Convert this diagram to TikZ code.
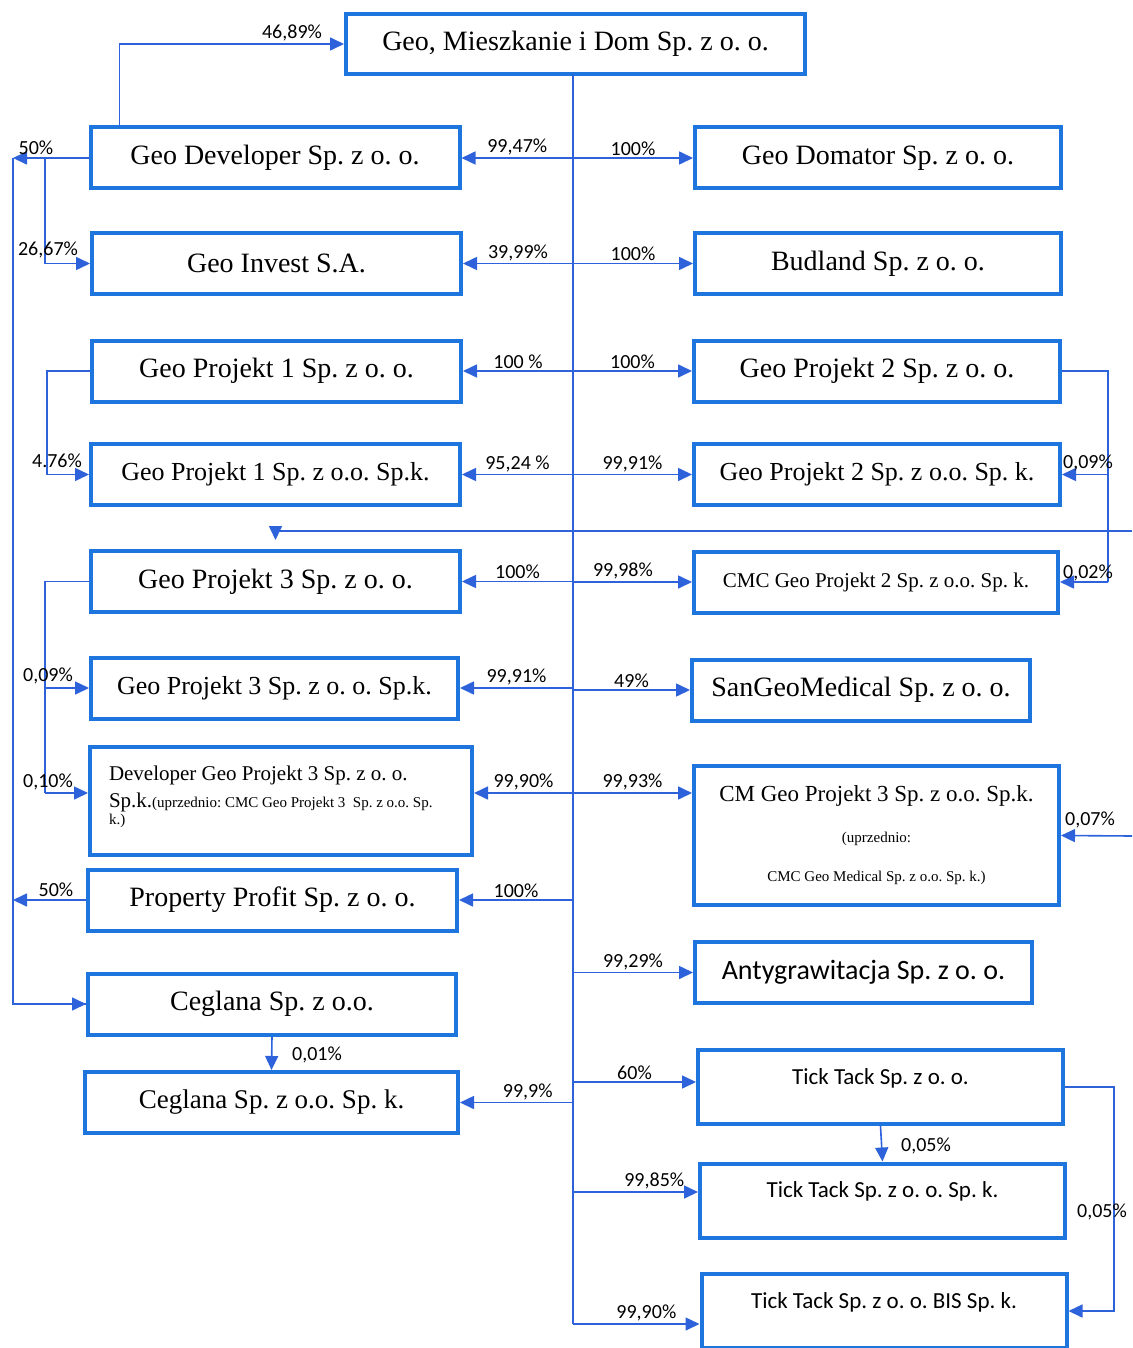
\documentclass[tikz,border=0pt]{standalone}
\usepackage{fontspec}
\setmainfont{Liberation Serif}
\newfontfamily\calibri{Carlito}
\usetikzlibrary{arrows.meta}
\frenchspacing

\definecolor{boxblue}{RGB}{30,117,221}
\definecolor{lineblue}{RGB}{45,98,218}

\tikzset{
  firm/.style={rectangle, draw=boxblue, line width=2pt, inner sep=0pt,
    minimum width=184.5pt, minimum height=30.5pt,
    font=\fontsize{14}{16}\selectfont},
  firmk/.style={firm, font=\fontsize{13}{15}\selectfont},
  tick/.style={firm, minimum width=182.5pt,
    font=\calibri\fontsize{11.5}{13}\selectfont,
    text height=17pt, text depth=20pt},
  link/.style={draw=lineblue, line width=0.8pt},
  arr/.style={link, -{Triangle[length=7pt,width=6.5pt]}},
  pct/.style={font=\calibri\fontsize{10}{12}\selectfont, inner sep=1pt},
}

\begin{document}
\begin{tikzpicture}[x=0.5pt,y=-0.5pt]
  \useasboundingbox (0,0) rectangle (1132,1348);

  \begin{scope}
    \node[firm, minimum width=229.5pt, minimum height=30pt] (gmd) at (575.5,44) {Geo, Mieszkanie i Dom Sp. z o. o.};
    \node[firm] (gdev) at (275,158) {Geo Developer Sp. z o. o.};
    \node[firm, minimum width=183pt] (gdom) at (878,158) {Geo Domator Sp. z o. o.};
    \node[firm] (ginv) at (276.5,263.5) {Geo Invest S.A.};
    \node[firm, minimum width=183pt] (budl) at (878,263.5) {Budland Sp. z o. o.};
    \node[firm] (gp1) at (276.5,371) {Geo Projekt 1 Sp. z o. o.};
    \node[firm, minimum width=183pt] (gp2) at (877,371) {Geo Projekt 2 Sp. z o. o.};
    \node[firmk] (gp1k) at (275.5,474.5) {Geo Projekt 1 Sp. z o.o. Sp.k.};
    \node[firmk, minimum width=183pt] (gp2k) at (877,474.5) {Geo Projekt 2 Sp. z o.o. Sp. k.};
    \node[firm] (gp3) at (275.5,581.5) {Geo Projekt 3 Sp. z o. o.};
    \node[firm, minimum width=182pt, font=\fontsize{10.5}{12}\selectfont] (cmc2) at (876,582) {CMC Geo Projekt 2 Sp. z o.o. Sp. k.};
    \node[firmk, minimum width=183.5pt] (gp3k) at (274.5,688) {Geo Projekt 3 Sp. z o. o. Sp.k.};
    \node[firm, minimum width=169pt] (sgm) at (861,690) {SanGeoMedical Sp. z o. o.};
    \node[firm, minimum width=191pt, minimum height=54pt, text width=172pt, align=flush left,
      font=\fontsize{10.5}{13}\selectfont] (dgp3) at (281,801)
      {Developer Geo Projekt 3 Sp. z o. o.\\[0.5pt]Sp.k.{\fontsize{7.5}{8}\selectfont(uprzednio: CMC Geo Projekt 3\ \ Sp. z o.o. Sp.}\\[-4.5pt]{\fontsize{7.5}{8}\selectfont k.)}\\[-7pt]\mbox{}};
    \node[firm, minimum width=182.5pt, minimum height=69.5pt, align=center,
      font=\fontsize{11.5}{13.5}\selectfont] (cmgp3) at (876.5,835.5)
      {CM Geo Projekt 3 Sp. z o.o. Sp.k.\\[7pt]{\fontsize{7.5}{9}\selectfont(uprzednio:}\\[6pt]{\fontsize{7.5}{9}\selectfont CMC Geo Medical Sp. z o.o. Sp. k.)}};
    \node[firm] (ppr) at (272.5,900) {Property Profit Sp. z o. o.};
    \node[firm, minimum width=168.5pt, font=\calibri\fontsize{14}{16}\selectfont] (anty) at (863.5,972.5) {Antygrawitacja Sp. z o. o.};
    \node[firm, minimum width=184pt] (cegl) at (272,1004) {Ceglana Sp. z o.o.};
    \node[firm, minimum width=186.5pt, font=\fontsize{13.5}{15}\selectfont] (ceglk) at (271.5,1102.5) {Ceglana Sp. z o.o. Sp. k.};
    \node[tick] (tt) at (880.5,1087) {Tick Tack Sp. z o. o.};
    \node[tick] (ttk) at (882.5,1200.5) {Tick Tack Sp. z o. o. Sp. k.};
    \node[tick] (ttbis) at (884,1311) {Tick Tack Sp. z o. o. BIS Sp. k.};
  \end{scope}

  % os glowna
  \coordinate (sp) at (573,74);
  \coordinate (r7) at (573,793);
  \coordinate (ttrow) at (573,1082);
  \coordinate (ttkrow) at (573,1192);
  \coordinate (bisrow) at (573,1324);
  \draw[link] (sp) -- (bisrow);

  \draw[arr] (sp |- gdev.east) -- node[pct,above] (l9947) {99,47\%} (gdev.east);
  \draw[arr] (sp |- ginv.east) -- node[pct,above] (l3999) {39,99\%} (ginv.east);
  \draw[arr] (sp |- gp1.east) -- node[pct,above] (l100a) {100 \%} (gp1.east);
  \draw[arr] (sp |- gp1k.east) -- node[pct,above] (l9524) {95,24 \%} (gp1k.east);
  \draw[arr] (sp |- gp3.east) -- node[pct,above] (l100b) {100\%} (gp3.east);
  \draw[arr] (sp |- gp3k.east) -- node[pct,above] (l9991a) {99,91\%} (gp3k.east);
  \draw[arr] (r7) -- node[pct,above] (l9990a) {99,90\%} (dgp3.east |- r7);
  \draw[arr] (sp |- ppr.east) -- node[pct,above] (l100c) {100\%} (ppr.east);
  \draw[arr] (sp |- ceglk.east) -- node[pct,above,pos=0.4] (l999) {99,9\%} (ceglk.east);

  \draw[arr] (sp |- gdom.west) -- node[pct,above] (l100d) {100\%} (gdom.west);
  \draw[arr] (sp |- budl.west) -- node[pct,above] (l100e) {100\%} (budl.west);
  \draw[arr] (sp |- gp2.west) -- node[pct,above] (l100f) {100\%} (gp2.west);
  \draw[arr] (sp |- gp2k.west) -- node[pct,above] (l9991b) {99,91\%} (gp2k.west);
  \draw[arr] (sp |- cmc2.west) -- node[pct,above,pos=0.42] (l9998) {99,98\%} (cmc2.west);
  \draw[arr] (sp |- sgm.west) -- node[pct,above] (l49) {49\%} (sgm.west);
  \draw[arr] (r7) -- node[pct,above] (l9993) {99,93\%} (cmgp3.west |- r7);
  \draw[arr] (sp |- anty.west) -- node[pct,above] (l9929) {99,29\%} (anty.west);
  \draw[arr] (ttrow) -- node[pct,above] (l60) {60\%} (tt.west |- ttrow);
  \draw[arr] (ttkrow) -- node[pct,above,pos=0.65] (l9985) {99,85\%} (ttk.west |- ttkrow);
  \draw[arr] (bisrow) -- node[pct,above,pos=0.58] (l9990b) {99,90\%} (ttbis.west |- bisrow);

  % powiazania boczne
  \draw[arr] ([xshift=15.5pt]gdev.north west) |- (gmd.west);
  \node[pct] (l4689) at (292,33) {46,89\%};

  \coordinate (lft) at (13,158);
  \coordinate (lj1) at (45,158);
  \draw[arr] (gdev.west) -- (lft);
  \node[pct] (l50a) at (36,148) {50\%};
  \draw[arr] (lj1) |- (ginv.west);
  \node[pct] (l2667) at (48,250) {26,67\%};
  \draw[link] (lft) |- (cegl.west);
  \draw[arr] (lft |- cegl.west) -- (cegl.west);
  \draw[arr] (ppr.west) -- (ppr.west -| lft);
  \node[pct] (l50b) at (56,890) {50\%};

  \draw[arr] (gp1.west) -- ++(-43,0) |- (gp1k.west);
  \node[pct] (l476) at (57,461) {4.76\%};

  \draw[link] (gp3.west) -- ++(-44,0) coordinate (lj3) -- (lj3 |- r7);
  \draw[arr] (lj3 |- gp3k.west) -- (gp3k.west);
  \draw[arr] (lj3 |- r7) -- (dgp3.west |- r7);
  \node[pct] (l009a) at (48,676) {0,09\%};
  \node[pct] (l010) at (48,782) {0,10\%};

  \draw[link] (gp2.east) -- ++(46,0) coordinate (rj2) -- (rj2 |- cmc2.east);
  \draw[arr] (rj2 |- gp2k.east) -- (gp2k.east);
  \draw[arr] (rj2 |- cmc2.east) -- (cmc2.east);
  \node[pct] (l009b) at (1088,463) {0,09\%};
  \node[pct] (l002) at (1088,573) {0,02\%};

  \coordinate (offa) at (1132,531);
  \coordinate (offb) at (1132,836);
  \draw[arr, shorten >=4.5pt] (offa) -| (gp3.north);
  \draw[arr] (offb) -- (cmgp3.east);
  \node[pct] (l007) at (1090,820) {0,07\%};

  \draw[arr] (cegl.south) -- (ceglk.north);
  \node[pct] (l001) at (317,1055) {0,01\%};

  \draw[arr] (tt.south) -- (ttk.north);
  \node[pct] (l005a) at (926,1146) {0,05\%};
  \draw[arr] (tt.east) -- ++(49,0) |- (ttbis.east);
  \node[pct] (l005b) at (1102,1212) {0,05\%};

\end{tikzpicture}
\end{document}
